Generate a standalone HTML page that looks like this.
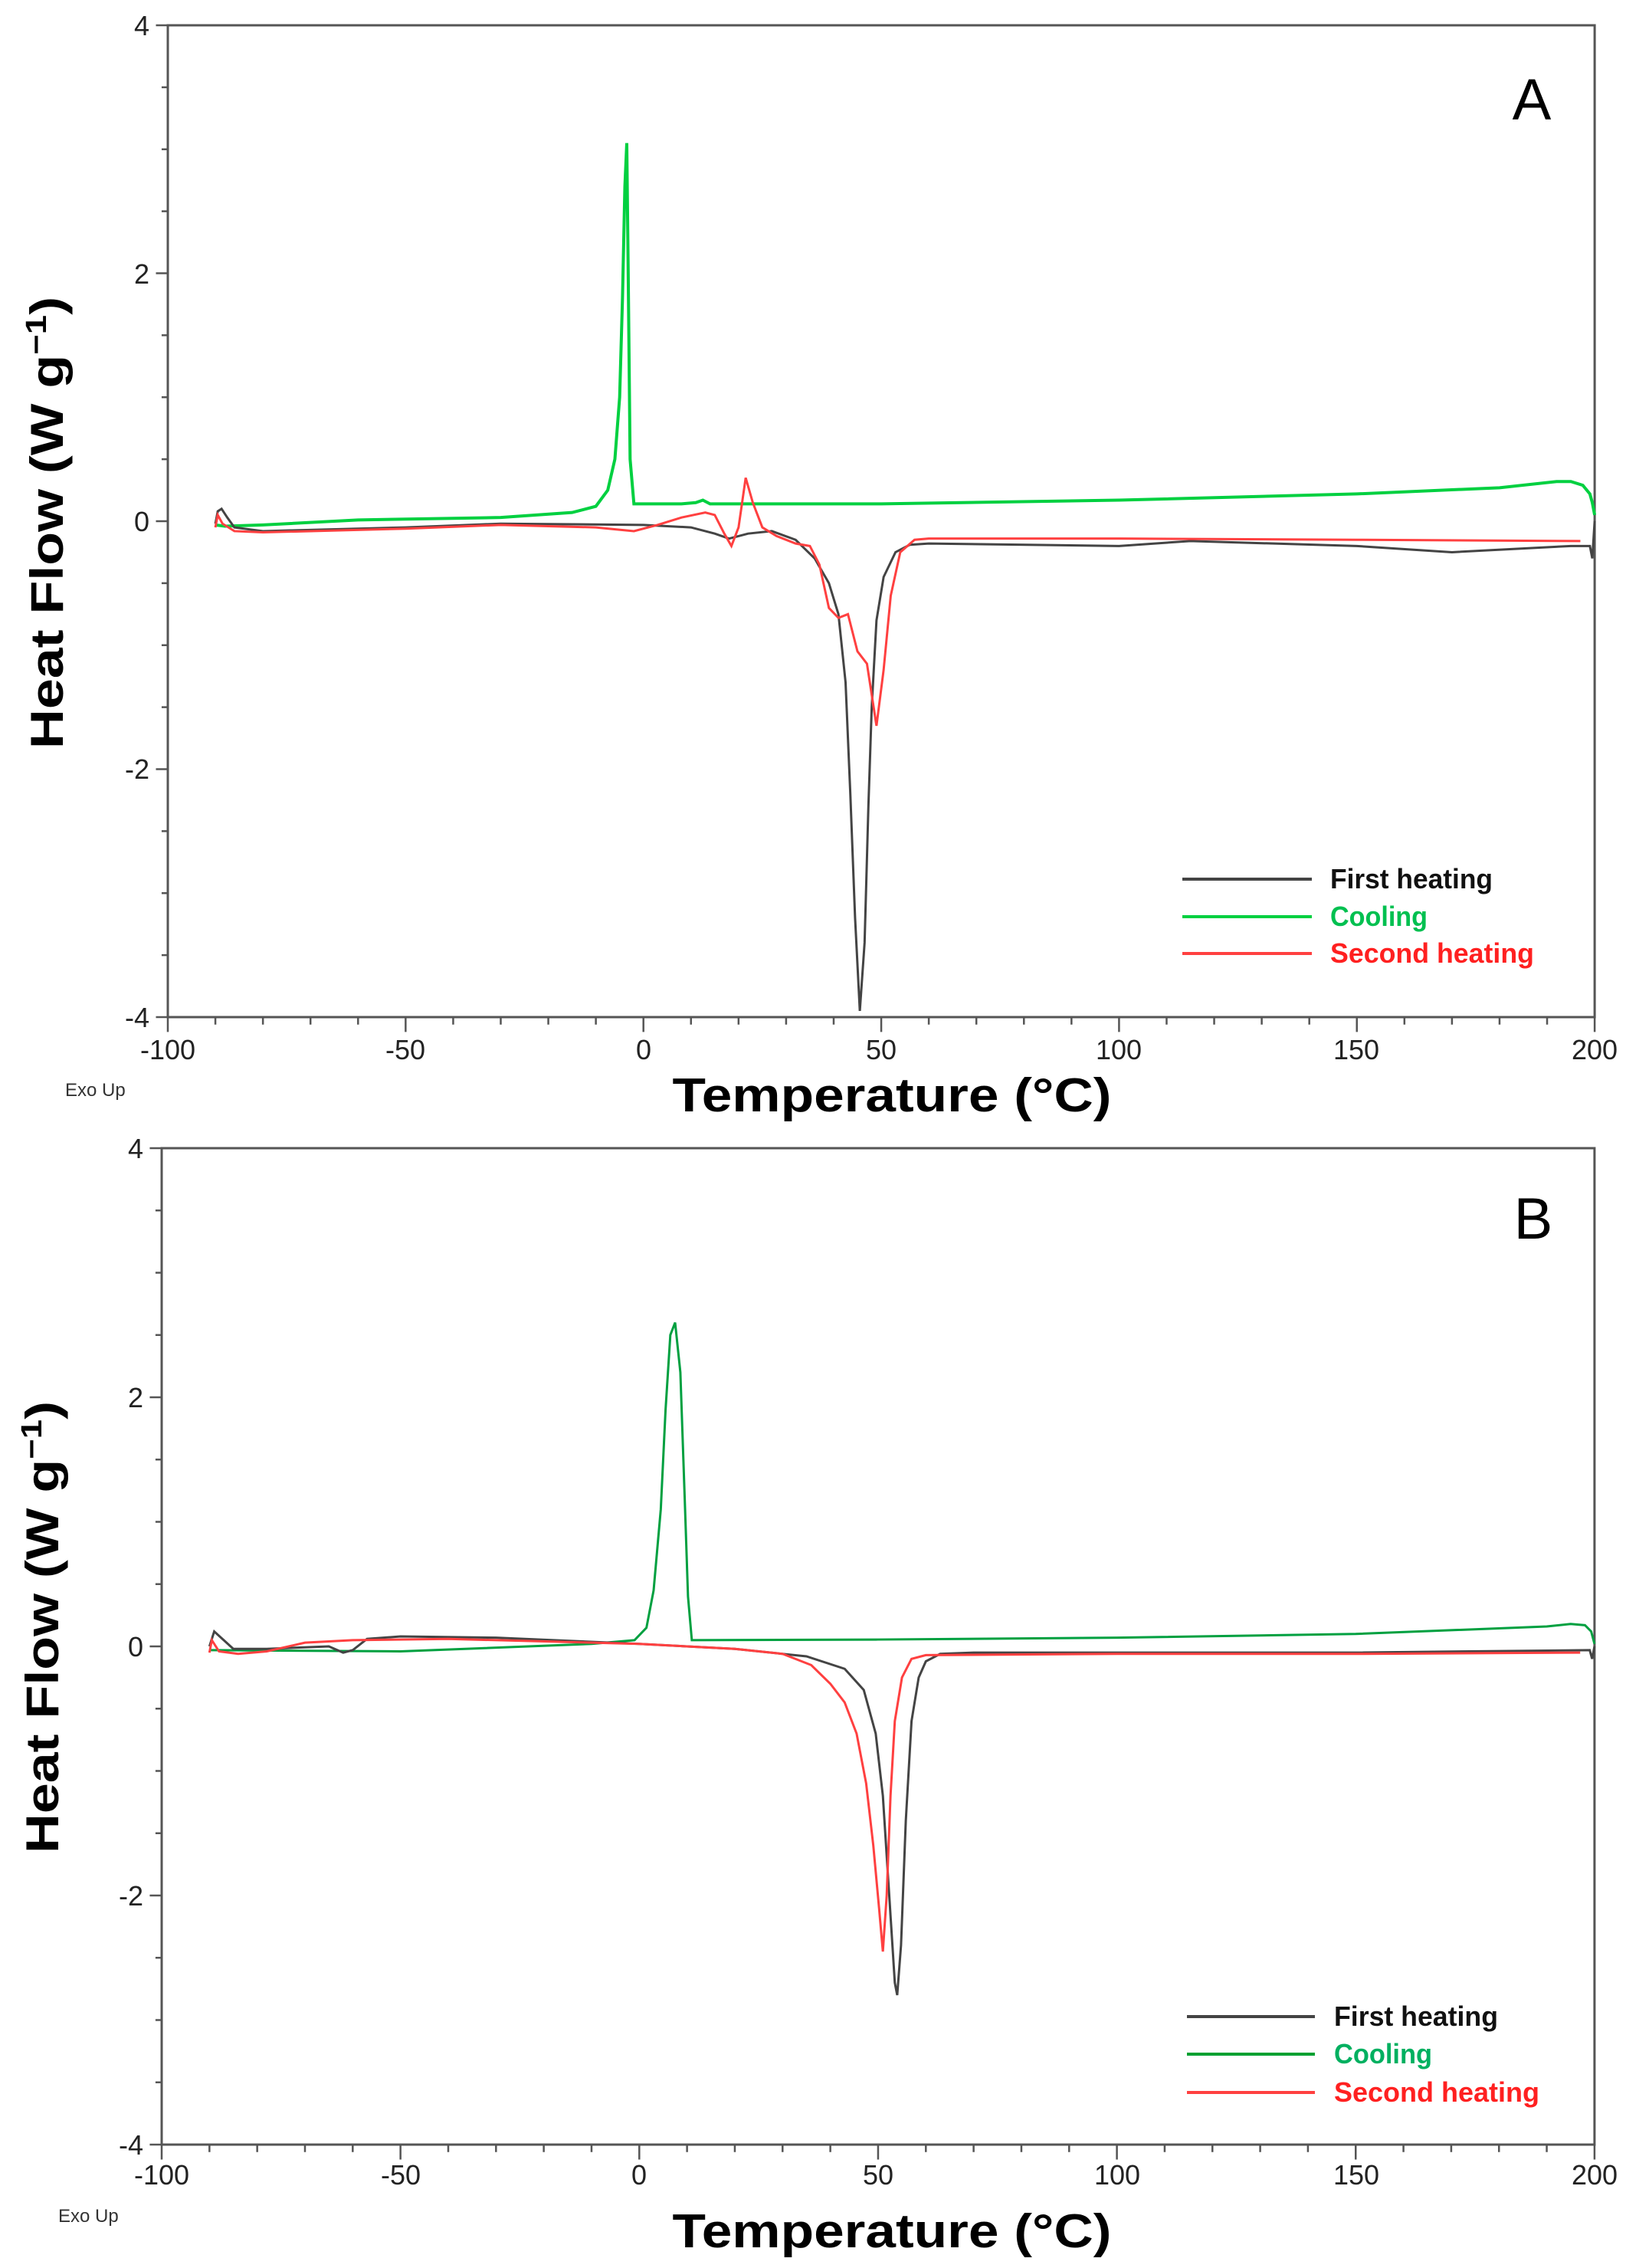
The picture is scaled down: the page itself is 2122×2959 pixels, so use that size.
<!DOCTYPE html>
<html><head><meta charset="utf-8"><style>html,body{margin:0;padding:0;background:#fff}svg{display:block}</style></head>
<body>
<svg width="2122" height="2959" viewBox="0 0 2122 2959" xmlns="http://www.w3.org/2000/svg" font-family="Liberation Sans, sans-serif">
<rect width="2122" height="2959" fill="#fff"/>

<!-- ===== Panel A ===== -->
<g transform="translate(839.7,680) scale(6.207,-161.75)" fill="none">
  <rect x="-100" y="-4" width="300" height="8" stroke="#555" stroke-width="3" vector-effect="non-scaling-stroke"/>
  <path stroke="#555" stroke-width="2.5" vector-effect="non-scaling-stroke" d="M-100 -4v-0.12M-50 -4v-0.12M0 -4v-0.12M50 -4v-0.12M100 -4v-0.12M150 -4v-0.12M200 -4v-0.12M-90 -4v-0.06M-80 -4v-0.06M-70 -4v-0.06M-60 -4v-0.06M-40 -4v-0.06M-30 -4v-0.06M-20 -4v-0.06M-10 -4v-0.06M10 -4v-0.06M20 -4v-0.06M30 -4v-0.06M40 -4v-0.06M60 -4v-0.06M70 -4v-0.06M80 -4v-0.06M90 -4v-0.06M110 -4v-0.06M120 -4v-0.06M130 -4v-0.06M140 -4v-0.06M160 -4v-0.06M170 -4v-0.06M180 -4v-0.06M190 -4v-0.06M-100 4h-2.5M-100 2h-2.5M-100 0h-2.5M-100 -2h-2.5M-100 -4h-2.5M-100 3.5h-1.3M-100 3h-1.3M-100 2.5h-1.3M-100 1.5h-1.3M-100 1h-1.3M-100 0.5h-1.3M-100 -0.5h-1.3M-100 -1h-1.3M-100 -1.5h-1.3M-100 -2.5h-1.3M-100 -3h-1.3M-100 -3.5h-1.3"/>
  <polyline stroke="#00d040" stroke-width="4" vector-effect="non-scaling-stroke" points="200,0.05 199.5,0.15 199,0.22 197.5,0.29 195,0.32 192,0.32 180,0.27 150,0.22 100,0.17 50,0.14 14,0.14 12.5,0.17 11,0.15 8,0.14 -2,0.14 -2.8,0.5 -3.2,2 -3.5,3.05 -3.9,2.7 -4.4,1.8 -5,1.0 -6,0.5 -7.5,0.25 -10,0.12 -15,0.07 -30,0.03 -60,0.01 -80,-0.03 -88,-0.04 -90,-0.03"/>
  <polyline stroke="#444" stroke-width="3" vector-effect="non-scaling-stroke" points="-90,-0.02 -89.5,0.08 -88.7,0.1 -87.5,0.03 -86,-0.05 -80,-0.08 -50,-0.05 -30,-0.02 0,-0.03 10,-0.05 15,-0.1 18,-0.14 22,-0.1 27,-0.08 32,-0.15 36,-0.3 39,-0.5 41,-0.75 42.5,-1.3 43.5,-2.2 44.5,-3.2 45.5,-3.95 46.5,-3.4 47.3,-2.3 48,-1.5 49,-0.8 50.5,-0.45 53,-0.25 56,-0.19 60,-0.18 100,-0.2 115,-0.16 150,-0.2 170,-0.25 195,-0.2 199,-0.2 199.5,-0.3 200,0"/>
  <polyline stroke="#ff4040" stroke-width="3" vector-effect="non-scaling-stroke" points="-90,-0.05 -89.5,0.05 -88.5,-0.02 -86,-0.08 -80,-0.09 -50,-0.06 -30,-0.03 -10,-0.05 -2,-0.08 3,-0.03 8,0.03 13,0.07 15,0.05 17,-0.1 18.5,-0.2 20,-0.05 21.5,0.35 23,0.15 25,-0.05 28,-0.12 32,-0.18 35,-0.2 37,-0.35 39,-0.7 41,-0.78 43,-0.75 45,-1.05 47,-1.15 49,-1.65 50.5,-1.2 52,-0.6 54,-0.25 57,-0.15 60,-0.14 100,-0.14 150,-0.15 197,-0.16"/>
</g>
<g font-size="36" fill="#222" text-anchor="end">
  <text x="195" y="46">4</text><text x="195" y="370">2</text><text x="195" y="693">0</text><text x="195" y="1016">-2</text><text x="195" y="1340">-4</text>
</g>
<g font-size="36" fill="#222" text-anchor="middle">
  <text x="219" y="1382">-100</text><text x="529" y="1382">-50</text><text x="840" y="1382">0</text><text x="1150" y="1382">50</text><text x="1460" y="1382">100</text><text x="1770" y="1382">150</text><text x="2081" y="1382">200</text>
</g>
<text x="85" y="1430" font-size="24" fill="#333">Exo Up</text>
<text x="1164" y="1450" font-size="62" font-weight="bold" text-anchor="middle" textLength="573" lengthAdjust="spacingAndGlyphs">Temperature (°C)</text>
<text transform="translate(82,682) rotate(-90)" font-size="60" font-weight="bold" text-anchor="middle" textLength="590" lengthAdjust="spacingAndGlyphs">Heat Flow (W g<tspan dy="-22" font-size="38">−1</tspan><tspan dy="22">)</tspan></text>
<text x="1999" y="156" font-size="76" text-anchor="middle">A</text>
<g stroke-width="4">
  <line x1="1543" y1="1147" x2="1712" y2="1147" stroke="#444"/>
  <line x1="1543" y1="1196" x2="1712" y2="1196" stroke="#00d040"/>
  <line x1="1543" y1="1244" x2="1712" y2="1244" stroke="#ff4040"/>
</g>
<g font-size="36" font-weight="bold">
  <text x="1736" y="1159" fill="#111" textLength="212" lengthAdjust="spacingAndGlyphs">First heating</text>
  <text x="1736" y="1208" fill="#00c050" textLength="127" lengthAdjust="spacingAndGlyphs">Cooling</text>
  <text x="1736" y="1256" fill="#ff2020" textLength="266" lengthAdjust="spacingAndGlyphs">Second heating</text>
</g>

<!-- ===== Panel B ===== -->
<g transform="translate(834.3,2148) scale(6.233,-162.5)" fill="none">
  <rect x="-100" y="-4" width="300" height="8" stroke="#555" stroke-width="3" vector-effect="non-scaling-stroke"/>
  <path stroke="#555" stroke-width="2.5" vector-effect="non-scaling-stroke" d="M-100 -4v-0.12M-50 -4v-0.12M0 -4v-0.12M50 -4v-0.12M100 -4v-0.12M150 -4v-0.12M200 -4v-0.12M-90 -4v-0.06M-80 -4v-0.06M-70 -4v-0.06M-60 -4v-0.06M-40 -4v-0.06M-30 -4v-0.06M-20 -4v-0.06M-10 -4v-0.06M10 -4v-0.06M20 -4v-0.06M30 -4v-0.06M40 -4v-0.06M60 -4v-0.06M70 -4v-0.06M80 -4v-0.06M90 -4v-0.06M110 -4v-0.06M120 -4v-0.06M130 -4v-0.06M140 -4v-0.06M160 -4v-0.06M170 -4v-0.06M180 -4v-0.06M190 -4v-0.06M-100 4h-2.5M-100 2h-2.5M-100 0h-2.5M-100 -2h-2.5M-100 -4h-2.5M-100 3.5h-1.3M-100 3h-1.3M-100 2.5h-1.3M-100 1.5h-1.3M-100 1h-1.3M-100 0.5h-1.3M-100 -0.5h-1.3M-100 -1h-1.3M-100 -1.5h-1.3M-100 -2.5h-1.3M-100 -3h-1.3M-100 -3.5h-1.3"/>
  <polyline stroke="#00a040" stroke-width="3" vector-effect="non-scaling-stroke" points="200,0.02 199.3,0.12 198,0.17 195,0.18 190,0.16 150,0.1 100,0.07 50,0.055 11,0.05 10.2,0.4 9.5,1.2 8.6,2.2 7.5,2.6 6.5,2.5 5.5,1.9 4.5,1.1 3,0.45 1.5,0.15 -1,0.05 -10,0.02 -50,-0.04 -90,-0.03"/>
  <polyline stroke="#444" stroke-width="3" vector-effect="non-scaling-stroke" points="-90,0.0 -89,0.12 -87,0.05 -85,-0.02 -78,-0.02 -65,0.0 -62,-0.05 -60,-0.03 -57,0.06 -50,0.08 -30,0.07 0,0.02 20,-0.02 35,-0.08 43,-0.18 47,-0.35 49.5,-0.7 51,-1.2 52.5,-2.1 53.5,-2.7 54,-2.8 54.8,-2.4 55.8,-1.4 57,-0.6 58.5,-0.25 60,-0.12 63,-0.06 70,-0.05 150,-0.05 199,-0.03 199.5,-0.1 200,0"/>
  <polyline stroke="#ff4040" stroke-width="3" vector-effect="non-scaling-stroke" points="-90,-0.05 -89.5,0.05 -88,-0.04 -84,-0.06 -78,-0.04 -70,0.03 -60,0.05 -40,0.06 -10,0.03 0,0.02 20,-0.02 30,-0.06 36,-0.15 40,-0.3 43,-0.45 45.5,-0.7 47.5,-1.1 49,-1.6 50.2,-2.1 51,-2.45 51.8,-2.0 52.6,-1.2 53.5,-0.6 55,-0.25 57,-0.1 60,-0.07 100,-0.06 150,-0.06 197,-0.05"/>
</g>
<g font-size="36" fill="#222" text-anchor="end">
  <text x="187" y="1511">4</text><text x="187" y="1836">2</text><text x="187" y="2161">0</text><text x="187" y="2486">-2</text><text x="187" y="2811">-4</text>
</g>
<g font-size="36" fill="#222" text-anchor="middle">
  <text x="211" y="2850">-100</text><text x="523" y="2850">-50</text><text x="834" y="2850">0</text><text x="1146" y="2850">50</text><text x="1458" y="2850">100</text><text x="1770" y="2850">150</text><text x="2081" y="2850">200</text>
</g>
<text x="76" y="2899" font-size="24" fill="#333">Exo Up</text>
<text x="1164" y="2932" font-size="62" font-weight="bold" text-anchor="middle" textLength="573" lengthAdjust="spacingAndGlyphs">Temperature (°C)</text>
<text transform="translate(76,2123) rotate(-90)" font-size="60" font-weight="bold" text-anchor="middle" textLength="590" lengthAdjust="spacingAndGlyphs">Heat Flow (W g<tspan dy="-22" font-size="38">−1</tspan><tspan dy="22">)</tspan></text>
<text x="2001" y="1616" font-size="76" text-anchor="middle">B</text>
<g stroke-width="4">
  <line x1="1549" y1="2631" x2="1716" y2="2631" stroke="#444"/>
  <line x1="1549" y1="2680" x2="1716" y2="2680" stroke="#00a030"/>
  <line x1="1549" y1="2730" x2="1716" y2="2730" stroke="#ff4040"/>
</g>
<g font-size="36" font-weight="bold">
  <text x="1741" y="2643" fill="#111" textLength="214" lengthAdjust="spacingAndGlyphs">First heating</text>
  <text x="1741" y="2692" fill="#00b060" textLength="128" lengthAdjust="spacingAndGlyphs">Cooling</text>
  <text x="1741" y="2742" fill="#ff2020" textLength="268" lengthAdjust="spacingAndGlyphs">Second heating</text>
</g>
</svg>
</body></html>
